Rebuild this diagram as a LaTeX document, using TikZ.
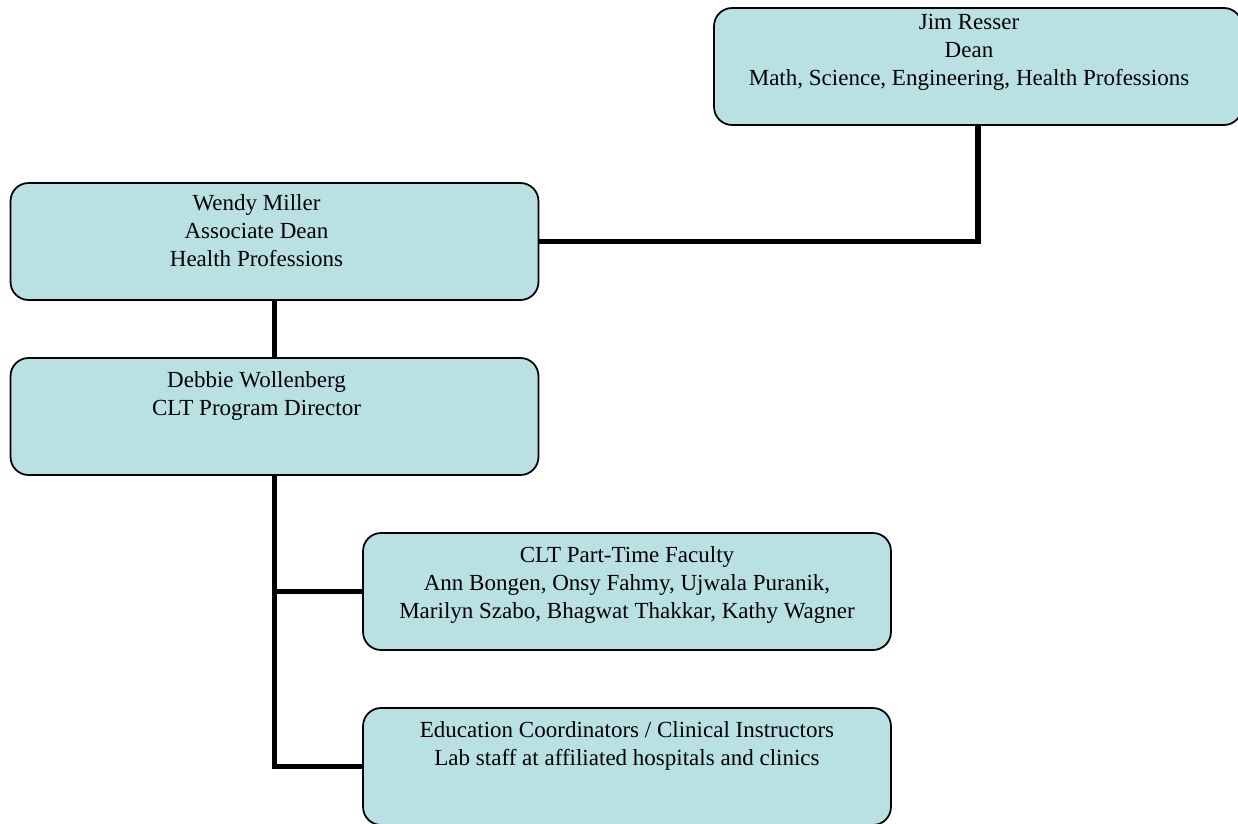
\documentclass[tikz,border=0pt]{standalone}
\usepackage{fontspec}
\setmainfont{Liberation Serif}
\usepackage{tikz}
\usetikzlibrary{calc}
\definecolor{boxfill}{RGB}{185,224,227}

\begin{document}
\begin{tikzpicture}[x=0.02cm,y=-0.02cm,
  orgbox/.style={draw=black,line width=1pt,fill=boxfill,rounded corners=0.36cm,inner sep=0pt,minimum width=10.56cm,minimum height=2.34cm},
  orgtext/.style={anchor=north,align=center,inner sep=0pt,font=\fontsize{13.1}{15.9}\selectfont},
  link/.style={line width=3.2pt}]

\useasboundingbox (0,0) rectangle (1238,824);

\node[orgbox] (jim)    at (978,66.5)  {};
\node[orgbox] (wendy)  at (274.5,241.5) {};
\node[orgbox] (debbie) at (274.5,416.5) {};
\node[orgbox] (clt)    at (627,591.5) {};
\node[orgbox] (edu)    at (627,766.5) {};

\node[orgtext] (jimtxt)    at ([xshift=-0.18cm,yshift=-0.14cm]jim.north) {Jim Resser\\Dean\\Math, Science, Engineering, Health Professions};
\node[orgtext] (wendytxt)  at ([xshift=-0.36cm,yshift=-0.24cm]wendy.north) {Wendy Miller\\Associate Dean\\Health Professions};
\node[orgtext] (debbietxt) at ([xshift=-0.36cm,yshift=-0.28cm]debbie.north) {Debbie Wollenberg\\CLT Program Director};
\node[orgtext] (clttxt)    at ([yshift=-0.28cm]clt.north) {CLT Part-Time Faculty\\Ann Bongen, Onsy Fahmy, Ujwala Puranik,\\Marilyn Szabo, Bhagwat Thakkar, Kathy Wagner};
\node[orgtext] (edutxt)    at ([yshift=-0.28cm]edu.north) {Education Coordinators / Clinical Instructors\\Lab staff at affiliated hospitals and clinics};

\draw[link] (jim.south) |- (wendy.east);
\draw[link] (wendy.south) -- (debbie.north);
\draw[link] (debbie.south) |- (clt.west);
\draw[link] (debbie.south) |- (edu.west);

\end{tikzpicture}
\end{document}
